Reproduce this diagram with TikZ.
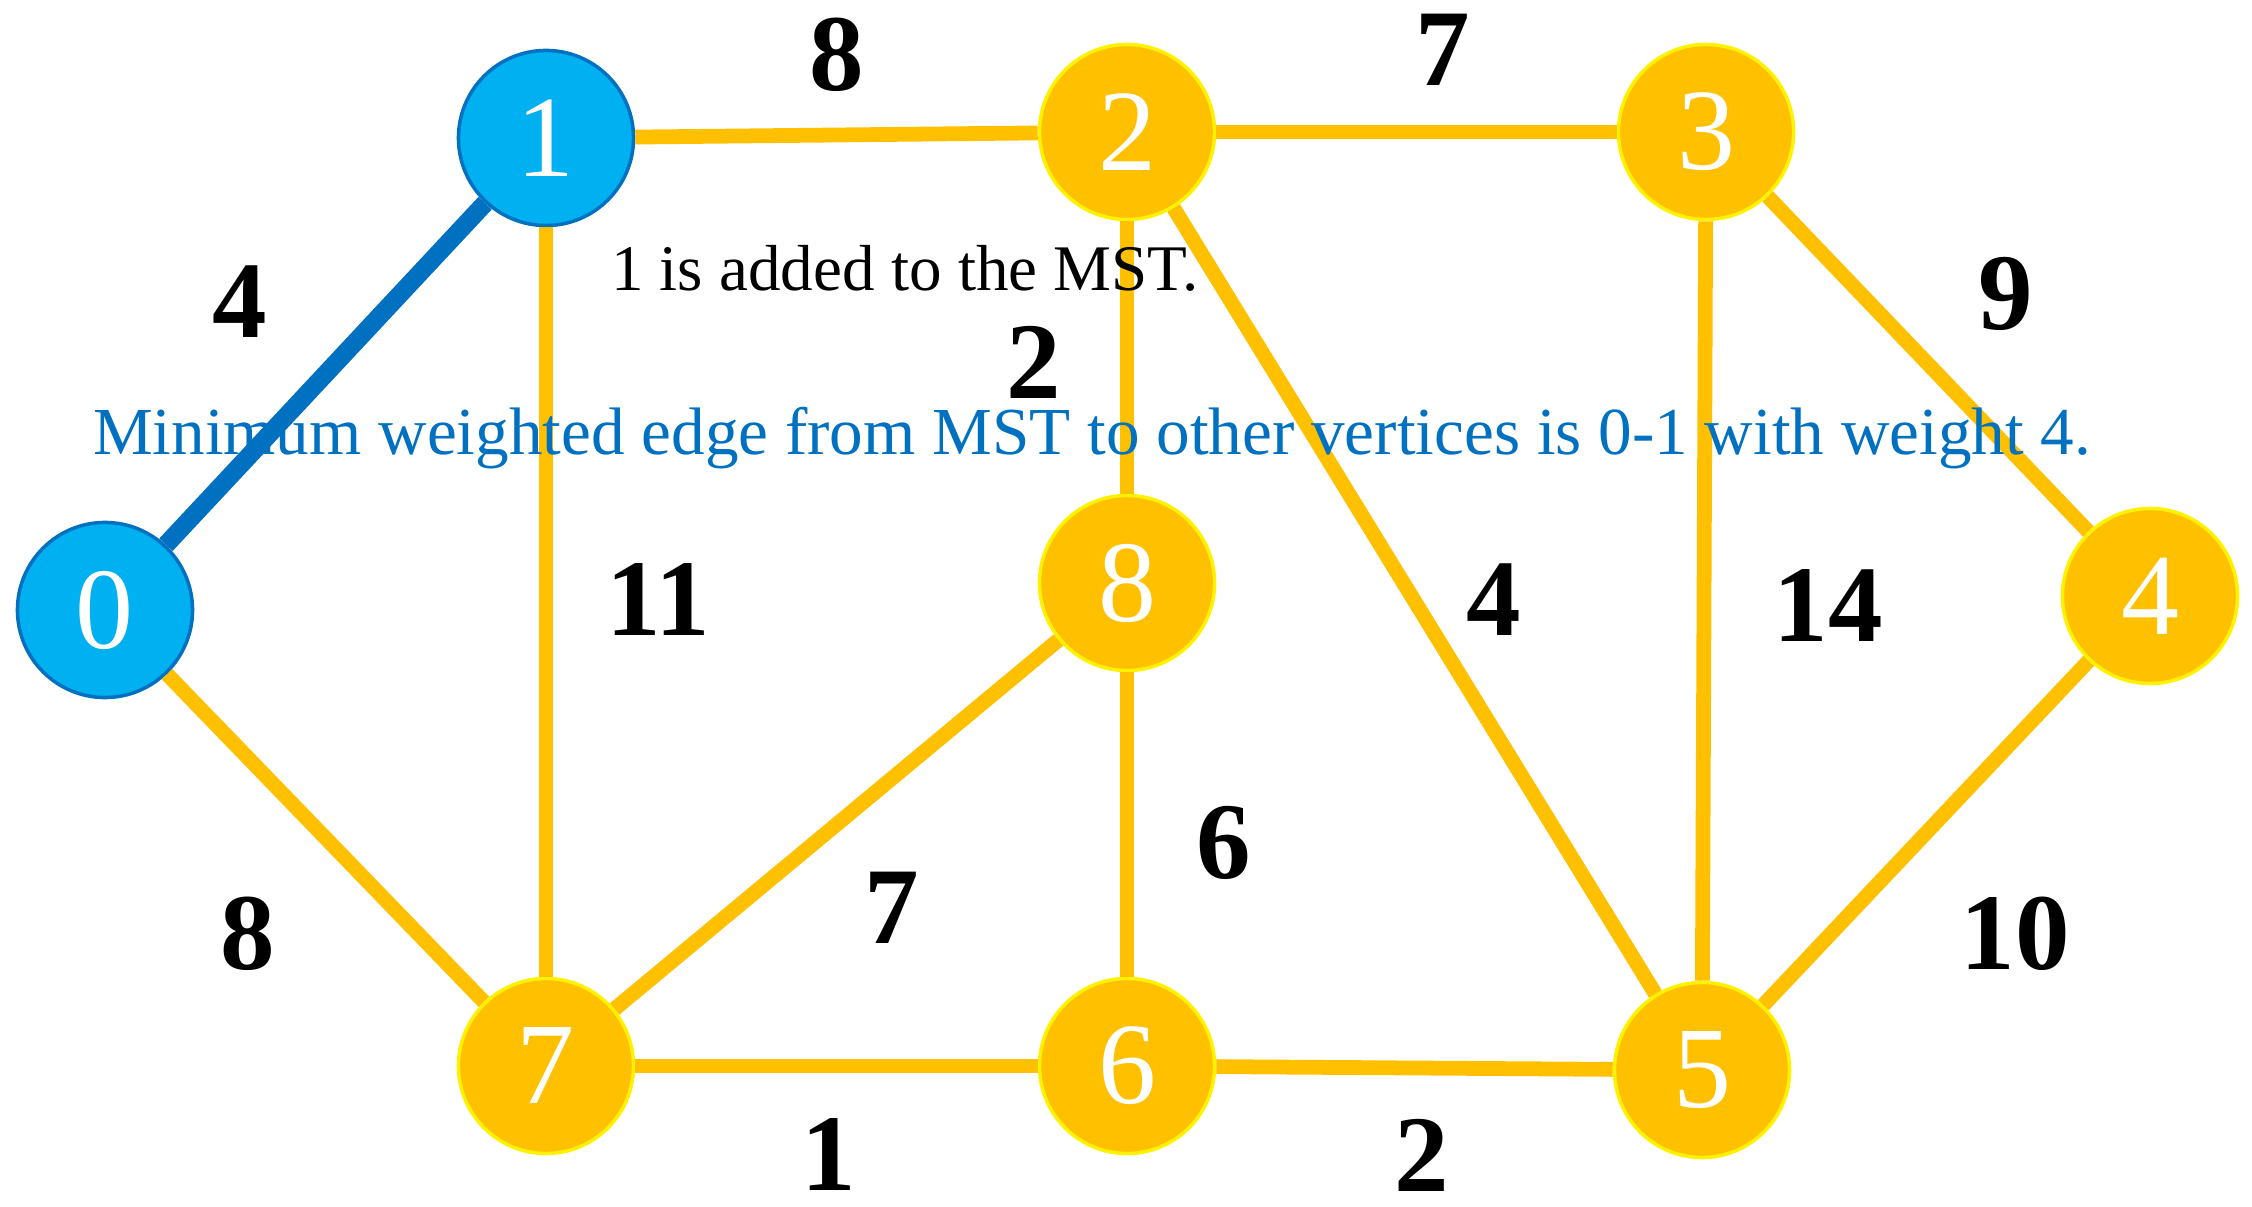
\documentclass[tikz,border=0pt]{standalone}
\usepackage{fontspec}
\setmainfont{Liberation Serif}
\usetikzlibrary{positioning}
\definecolor{mstblue}{HTML}{0070C0}
\definecolor{vtxblue}{HTML}{00B0F0}
\definecolor{vtxgold}{HTML}{FFC000}

\begin{document}
\begin{tikzpicture}[
    x=0.01cm, y=-0.01cm,
    vtx/.style={circle, minimum size=1.75cm, inner sep=0pt, line width=1pt,
        text=white, font=\fontsize{33}{33}\selectfont},
    inmst/.style={vtx, fill=vtxblue, draw=mstblue},
    fresh/.style={vtx, fill=vtxgold, draw=yellow},
    wt/.style={font=\fontsize{31}{31}\selectfont\bfseries},
    every edge/.style={draw, vtxgold, line width=4.2pt},
]
  \useasboundingbox (0,0) rectangle (2252,1207);

  % vertices
  \node[inmst] (v0) at (105,610)  {0};
  \node[inmst] (v1) at (546,138)  {1};
  \node[fresh] (v2) at (1127,132) {2};
  \node[fresh] (v3) at (1706,132) {3};
  \node[fresh] (v4) at (2150,596) {4};
  \node[fresh] (v5) at (1702,1070) {5};
  \node[fresh] (v6) at (1127,1066) {6};
  \node[fresh] (v7) at (546,1066) {7};
  \node[fresh] (v8) at (1127,583) {8};

  % edges
  \draw[mstblue, line width=5.2pt] (v0) -- (v1);
  \path (v0) edge (v7)
        (v1) edge (v2)
        (v1) edge (v7)
        (v2) edge (v3)
        (v2) edge (v8)
        (v2) edge (v5)
        (v3) edge (v4)
        (v3) edge (v5)
        (v4) edge (v5)
        (v7) edge (v8)
        (v8) edge (v6)
        (v7) edge (v6)
        (v6) edge (v5);

  % weights
  \node[wt] (w12) at (837,55)   {8};
  \node[wt] (w23) at (1443,50)  {7};
  \node[wt] (w01) at (240,302)  {4};
  \node[wt] (w34) at (2006,294) {9};
  \node[wt] (w28) at (1034,362) {2};
  \node[wt] (w17) at (658,600)  {11};
  \node[wt] (w25) at (1494,600) {4};
  \node[wt] (w35) at (1828,606) {14};
  \node[wt] (w86) at (1224,843) {6};
  \node[wt] (w78) at (892,908)  {7};
  \node[wt] (w07) at (248,934)  {8};
  \node[wt] (w45) at (2015,934) {10};
  \node[wt] (w76) at (829,1155) {1};
  \node[wt] (w65) at (1422,1155) {2};

  % captions
  \node[font=\fontsize{18.5}{18.5}\selectfont] (added) at (905,268) {1 is added to the MST.};
  \node[text=mstblue, font=\fontsize{19.1}{19.1}\selectfont] (minedge) at (1092,438)
    {Minimum weighted edge from MST to other vertices is 0-1 with weight 4.};
\end{tikzpicture}
\end{document}
